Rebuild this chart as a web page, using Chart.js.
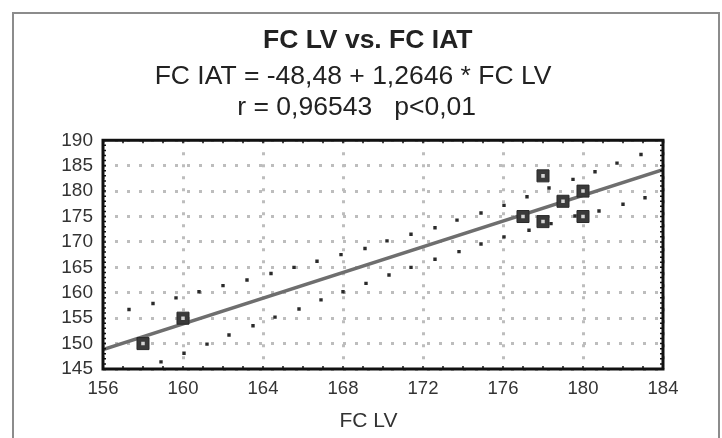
<!DOCTYPE html>
<html>
<head>
<meta charset="utf-8">
<script src="https://cdn.jsdelivr.net/npm/chart.js@4.4.0/dist/chart.umd.min.js"></script>
<style>
  body { margin: 0; background: #fff; }
  #wrap { position: relative; width: 722px; height: 438px; overflow: hidden; }
  #frame { position: absolute; left: 12px; top: 12px; width: 704px; height: 440px; border: 2px solid #8c8c8c; pointer-events: none; }
</style>
</head>
<body>
<div id="wrap">
  <canvas id="chart" width="722" height="438"></canvas>
  <div id="frame"></div>
</div>
<script>
// --- DATA ---
const fcLv  = [158, 160, 177, 178, 178, 179, 180, 180];
const fcIat = [150, 155, 175, 183, 174, 178, 180, 175];

// regression line end points
const fitX = [156, 184];
const fitY = [148.8, 184.2];

// confidence band, drawn as small dots
const bandUpX = [157.3, 158.5, 159.65, 160.8, 162.0, 163.2, 164.4, 165.55, 166.7, 167.9, 169.1, 170.2,
                 171.4, 172.6, 173.7, 174.9, 176.05, 177.2, 178.3, 179.5, 180.6, 181.7, 182.9];
const bandUpY = [156.7, 157.9, 159.0, 160.2, 161.4, 162.5, 163.8, 165.0, 166.2, 167.5, 168.7, 170.2,
                 171.5, 172.8, 174.3, 175.7, 177.2, 178.9, 180.6, 182.3, 183.8, 185.5, 187.2];
const bandLoX = [158.9, 160.05, 161.2, 162.3, 163.5, 164.6, 165.8, 166.9, 168.0, 169.15, 170.3,
                 171.4, 172.6, 173.8, 174.9, 176.05, 177.3, 178.4, 179.6, 180.8, 182.0, 183.1];
const bandLoY = [146.4, 148.1, 149.9, 151.7, 153.5, 155.2, 156.8, 158.6, 160.2, 161.85, 163.5,
                 165.0, 166.6, 168.1, 169.6, 171.0, 172.3, 173.6, 175.1, 176.1, 177.4, 178.7];

const xTicks = [156, 160, 164, 168, 172, 176, 180, 184];
const yTicks = [145, 150, 155, 160, 165, 170, 175, 180, 185, 190];

const FONT = "'Liberation Sans', Arial, sans-serif";
const pts = (xs, ys) => xs.map((v, i) => ({ x: v, y: ys[i] }));

// thick frame round the plot with small inward ticks
const framePlugin = {
    id: 'frame',
    afterDraw(chart) {
        const { ctx, chartArea: a, scales: { x, y } } = chart;
        ctx.save();
        ctx.strokeStyle = '#111';
        ctx.lineWidth = 1.5;
        ctx.beginPath();
        for (let v = 156; v <= 184; v++) {
            const px = x.getPixelForValue(v);
            ctx.moveTo(px, a.bottom); ctx.lineTo(px, a.bottom - 3);
            ctx.moveTo(px, a.top); ctx.lineTo(px, a.top + 3);
        }
        for (let v = 145; v <= 190; v++) {
            const py = y.getPixelForValue(v);
            ctx.moveTo(a.left, py); ctx.lineTo(a.left + 3, py);
            ctx.moveTo(a.right, py); ctx.lineTo(a.right - 3, py);
        }
        ctx.stroke();
        ctx.lineWidth = 3;
        ctx.strokeRect(a.left, a.top, a.right - a.left, a.bottom - a.top);
        ctx.restore();
    }
};

const gridOpts = { color: '#bdbdbd', lineWidth: 3, drawTicks: false };
const borderOpts = { display: false, dash: [3, 9] };

new Chart(document.getElementById('chart'), {
    type: 'scatter',
    data: {
        datasets: [
            { data: pts(fcLv, fcIat), pointStyle: 'rect', pointRadius: 2.5, backgroundColor: '#d4d4d4', borderWidth: 0, order: 0 },
            { data: pts(fcLv, fcIat), pointStyle: 'rect', pointRadius: 8.5, backgroundColor: '#3a3a3a', borderColor: '#2a2a2a', borderWidth: 1, order: 1 },
            { data: pts(fitX, fitY), showLine: true, borderColor: '#6e6e6e', borderWidth: 3.5, pointRadius: 0, order: 2 },
            { data: pts(bandUpX, bandUpY), pointStyle: 'rect', pointRadius: 2.4, backgroundColor: '#2a2a2a', borderWidth: 0, order: 3 },
            { data: pts(bandLoX, bandLoY), pointStyle: 'rect', pointRadius: 2.4, backgroundColor: '#2a2a2a', borderWidth: 0, order: 3 }
        ]
    },
    options: {
        responsive: false,
        animation: false,
        events: [],
        layout: { padding: { top: 25, left: 43, right: 59, bottom: 0 } },
        plugins: {
            legend: { display: false },
            tooltip: { enabled: false },
            title: {
                display: true, text: '    FC LV vs. FC IAT', color: '#222',
                font: { family: FONT, size: 26.5, weight: 'bold', lineHeight: 1.2 },
                padding: { top: 0, bottom: 5 }
            },
            subtitle: {
                display: true,
                text: ['FC IAT = -48,48 + 1,2646 * FC LV', ' r = 0,96543   p<0,01'],
                color: '#222',
                font: { family: FONT, size: 26.5, lineHeight: 1.16 },
                padding: { top: 0, bottom: 17 }
            }
        },
        scales: {
            x: {
                type: 'linear', min: 156, max: 184,
                afterBuildTicks: s => { s.ticks = xTicks.map(v => ({ value: v })); },
                afterFit: s => { s.height = 69; },
                grid: gridOpts, border: borderOpts,
                ticks: { color: '#333', font: { family: FONT, size: 18.5 }, padding: 9, autoSkip: false, maxRotation: 0 },
                title: { display: true, text: 'FC LV     ', color: '#333', font: { family: FONT, size: 21 }, padding: { top: 0, bottom: 4 } }
            },
            y: {
                type: 'linear', min: 145, max: 190,
                afterBuildTicks: s => { s.ticks = yTicks.map(v => ({ value: v })); },
                afterFit: s => { s.width = 60; },
                grid: gridOpts, border: borderOpts,
                ticks: { color: '#333', font: { family: FONT, size: 19 }, padding: 10, autoSkip: false }
            }
        }
    },
    plugins: [framePlugin]
});
</script>
</body>
</html>
